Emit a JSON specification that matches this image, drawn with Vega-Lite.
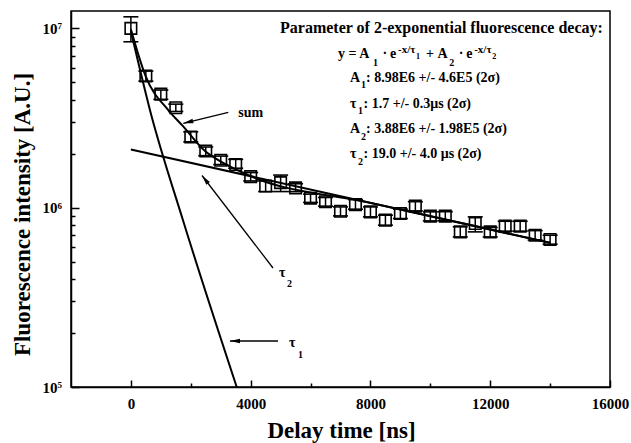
{
  "$schema": "https://vega.github.io/schema/vega-lite/v6.json",
  "width": 539,
  "height": 376,
  "autosize": {"type": "none"},
  "padding": {"left": 71, "top": 11, "right": 21, "bottom": 56},
  "background": "white",
  "config": {
    "view": {"stroke": "black", "strokeWidth": 1.5},
    "font": "Liberation Serif"
  },
  "datasets": {
    "points": [
      {"x": 0, "y": 10000000, "lo": 8420000, "hi": 11600000},
      {"x": 500, "y": 5420000, "lo": 5080000, "hi": 5780000},
      {"x": 1000, "y": 4300000, "lo": 4020000, "hi": 4530000},
      {"x": 1500, "y": 3610000, "lo": 3440000, "hi": 3780000},
      {"x": 2000, "y": 2480000, "lo": 2330000, "hi": 2650000},
      {"x": 2500, "y": 2070000, "lo": 1950000, "hi": 2180000},
      {"x": 3000, "y": 1840000, "lo": 1740000, "hi": 1940000},
      {"x": 3500, "y": 1740000, "lo": 1660000, "hi": 1860000},
      {"x": 4000, "y": 1490000, "lo": 1410000, "hi": 1570000},
      {"x": 4500, "y": 1320000, "lo": 1230000, "hi": 1410000},
      {"x": 5000, "y": 1380000, "lo": 1230000, "hi": 1520000},
      {"x": 5500, "y": 1290000, "lo": 1230000, "hi": 1360000},
      {"x": 6000, "y": 1130000, "lo": 1070000, "hi": 1190000},
      {"x": 6500, "y": 1080000, "lo": 1020000, "hi": 1140000},
      {"x": 7000, "y": 956000, "lo": 900000, "hi": 1010000},
      {"x": 7500, "y": 1040000, "lo": 981000, "hi": 1110000},
      {"x": 8000, "y": 948000, "lo": 889000, "hi": 1010000},
      {"x": 8500, "y": 852000, "lo": 799000, "hi": 908000},
      {"x": 9000, "y": 928000, "lo": 870000, "hi": 981000},
      {"x": 9500, "y": 1020000, "lo": 960000, "hi": 1080000},
      {"x": 10000, "y": 897000, "lo": 844000, "hi": 948000},
      {"x": 10500, "y": 897000, "lo": 845000, "hi": 950000},
      {"x": 11000, "y": 733000, "lo": 687000, "hi": 782000},
      {"x": 11500, "y": 816000, "lo": 733000, "hi": 889000},
      {"x": 12000, "y": 733000, "lo": 687000, "hi": 776000},
      {"x": 12500, "y": 789000, "lo": 740000, "hi": 840000},
      {"x": 13000, "y": 789000, "lo": 740000, "hi": 840000},
      {"x": 13500, "y": 702000, "lo": 660000, "hi": 745000},
      {"x": 14000, "y": 665000, "lo": 626000, "hi": 702000}
    ],
    "fits": [
      {"curve": "sum", "x": 0, "y": 9900000},
      {"curve": "sum", "x": 492, "y": 5420000},
      {"curve": "sum", "x": 1248, "y": 3500000},
      {"curve": "sum", "x": 1740, "y": 2850000},
      {"curve": "sum", "x": 2477, "y": 2070000},
      {"curve": "sum", "x": 2922, "y": 1840000},
      {"curve": "sum", "x": 3916, "y": 1520000},
      {"curve": "sum", "x": 8000, "y": 1064000},
      {"curve": "sum", "x": 14000, "y": 637000},
      {"curve": "tau1", "x": 0, "y": 9660000},
      {"curve": "tau1", "x": 638, "y": 3500000},
      {"curve": "tau1", "x": 1740, "y": 851000},
      {"curve": "tau1", "x": 3534, "y": 100000},
      {"curve": "tau2", "x": 0, "y": 2110000},
      {"curve": "tau2", "x": 14000, "y": 637000}
    ],
    "arrows": [
      {"name": "sum", "x": 1750, "y": 2955000, "x2": 3253, "y2": 3404000},
      {"name": "tau2", "x": 2375, "y": 1512000, "x2": 4746, "y2": 461000},
      {"name": "tau1", "x": 3310, "y": 180500, "x2": 4913, "y2": 180500}
    ],
    "heading": [
      {"x": 4980, "y": 9386000, "t": "Parameter of 2-exponential fluorescence decay:"}
    ],
    "textMain": [
      {"x": 6916, "y": 6810000, "t": "y = A"},
      {"x": 8403, "y": 6810000, "t": "·"},
      {"x": 8653, "y": 6810000, "t": "e"},
      {"x": 9855, "y": 6810000, "t": "+"},
      {"x": 10243, "y": 6810000, "t": "A"},
      {"x": 10951, "y": 6810000, "t": "·"},
      {"x": 11201, "y": 6810000, "t": "e"},
      {"x": 7317, "y": 5040000, "t": "A"},
      {"x": 7852, "y": 5040000, "t": ": 8.98E6 +/- 4.6E5 (2σ)"},
      {"x": 7317, "y": 3584000, "t": "τ"},
      {"x": 7768, "y": 3584000, "t": ": 1.7 +/- 0.3μs (2σ)"},
      {"x": 7317, "y": 2610000, "t": "A"},
      {"x": 7852, "y": 2610000, "t": ": 3.88E6 +/- 1.98E5 (2σ)"},
      {"x": 7317, "y": 1893000, "t": "τ"},
      {"x": 7768, "y": 1893000, "t": ": 19.0 +/- 4.0 μs (2σ)"},
      {"x": 3587, "y": 3203000, "t": "sum"},
      {"x": 4946, "y": 410700, "t": "τ"},
      {"x": 5280, "y": 167200, "t": "τ"}
    ],
    "textSub": [
      {"x": 8085, "y": 6170000, "t": "1"},
      {"x": 10634, "y": 6170000, "t": "2"},
      {"x": 7685, "y": 4650000, "t": "1"},
      {"x": 7584, "y": 3330000, "t": "1"},
      {"x": 7685, "y": 2385000, "t": "2"},
      {"x": 7584, "y": 1730000, "t": "2"},
      {"x": 5213, "y": 361000, "t": "2"},
      {"x": 5581, "y": 145100, "t": "1"}
    ],
    "textSupSub": [
      {"x": 9521, "y": 6750000, "t": "1"},
      {"x": 12066, "y": 6750000, "t": "2"}
    ],
    "textSup": [
      {"x": 8920, "y": 7260000, "t": "-x/τ"},
      {"x": 11465, "y": 7260000, "t": "-x/τ"}
    ],
    "ysup": [
      {"x": -2000, "y": 100000, "t": "5"},
      {"x": -2000, "y": 1000000, "t": "6"},
      {"x": -2000, "y": 10000000, "t": "7"}
    ]
  },
  "layer": [
    {
      "data": {"name": "fits"},
      "mark": {"type": "line", "interpolate": "monotone", "stroke": "black", "strokeWidth": 2},
      "encoding": {
        "x": {"field": "x", "type": "quantitative", "scale": {"domain": [-2000, 16000], "nice": false, "zero": false}},
        "y": {"field": "y", "type": "quantitative", "scale": {"type": "log", "domain": [100000, 12500000], "nice": false}},
        "detail": {"field": "curve"}
      }
    },
    {
      "data": {"name": "arrows"},
      "mark": {"type": "rule", "stroke": "black", "strokeWidth": 1.3},
      "encoding": {
        "x": {"field": "x", "type": "quantitative", "scale": {"domain": [-2000, 16000], "nice": false, "zero": false}},
        "y": {"field": "y", "type": "quantitative", "scale": {"type": "log", "domain": [100000, 12500000], "nice": false}},
        "x2": {"field": "x2"},
        "y2": {"field": "y2"}
      }
    },
    {
      "data": {"name": "arrows"},
      "transform": [{"filter": "datum.name === 'sum'"}],
      "mark": {"type": "point", "shape": "M0,0L-2,-0.45L-2,0.45Z", "size": 100, "filled": true, "color": "black", "opacity": 1, "angle": 166.3},
      "encoding": {
        "x": {"field": "x", "type": "quantitative", "scale": {"domain": [-2000, 16000], "nice": false, "zero": false}},
        "y": {"field": "y", "type": "quantitative", "scale": {"type": "log", "domain": [100000, 12500000], "nice": false}}
      }
    },
    {
      "data": {"name": "arrows"},
      "transform": [{"filter": "datum.name === 'tau2'"}],
      "mark": {"type": "point", "shape": "M0,0L-2,-0.45L-2,0.45Z", "size": 100, "filled": true, "color": "black", "opacity": 1, "angle": 232.6},
      "encoding": {
        "x": {"field": "x", "type": "quantitative", "scale": {"domain": [-2000, 16000], "nice": false, "zero": false}},
        "y": {"field": "y", "type": "quantitative", "scale": {"type": "log", "domain": [100000, 12500000], "nice": false}}
      }
    },
    {
      "data": {"name": "arrows"},
      "transform": [{"filter": "datum.name === 'tau1'"}],
      "mark": {"type": "point", "shape": "M0,0L-2,-0.45L-2,0.45Z", "size": 100, "filled": true, "color": "black", "opacity": 1, "angle": 180},
      "encoding": {
        "x": {"field": "x", "type": "quantitative", "scale": {"domain": [-2000, 16000], "nice": false, "zero": false}},
        "y": {"field": "y", "type": "quantitative", "scale": {"type": "log", "domain": [100000, 12500000], "nice": false}}
      }
    },
    {
      "data": {"name": "points"},
      "mark": {"type": "rule", "stroke": "black", "strokeWidth": 1.5},
      "encoding": {
        "x": {"field": "x", "type": "quantitative", "scale": {"domain": [-2000, 16000], "nice": false, "zero": false}},
        "y": {"field": "lo", "type": "quantitative", "scale": {"type": "log", "domain": [100000, 12500000], "nice": false}},
        "y2": {"field": "hi"}
      }
    },
    {
      "data": {"name": "points"},
      "mark": {"type": "point", "shape": "M-1,0L1,0", "size": 225, "filled": false, "stroke": "black", "strokeWidth": 1.6, "opacity": 1},
      "encoding": {
        "x": {"field": "x", "type": "quantitative", "scale": {"domain": [-2000, 16000], "nice": false, "zero": false}},
        "y": {"field": "lo", "type": "quantitative", "scale": {"type": "log", "domain": [100000, 12500000], "nice": false}}
      }
    },
    {
      "data": {"name": "points"},
      "mark": {"type": "point", "shape": "M-1,0L1,0", "size": 225, "filled": false, "stroke": "black", "strokeWidth": 1.6, "opacity": 1},
      "encoding": {
        "x": {"field": "x", "type": "quantitative", "scale": {"domain": [-2000, 16000], "nice": false, "zero": false}},
        "y": {"field": "hi", "type": "quantitative", "scale": {"type": "log", "domain": [100000, 12500000], "nice": false}}
      }
    },
    {
      "data": {"name": "points"},
      "mark": {"type": "point", "shape": "square", "size": 132, "filled": false, "stroke": "black", "strokeWidth": 1.6, "opacity": 1},
      "encoding": {
        "x": {
          "field": "x", "type": "quantitative",
          "scale": {"domain": [-2000, 16000], "nice": false, "zero": false},
          "axis": {
            "title": "Delay time [ns]",
            "values": [0, 2000, 4000, 6000, 8000, 10000, 12000, 14000, 16000],
            "format": "d",
            "labelExpr": "datum.value % 4000 === 0 ? datum.label : ''",
            "tickSize": {"condition": {"test": "datum.value % 4000 === 0", "value": -7}, "value": -4},
            "tickColor": "black", "tickWidth": 1.5,
            "domainColor": "black", "domainWidth": 1.5,
            "grid": false,
            "labelFont": "Liberation Serif", "labelFontWeight": "bold", "labelFontSize": 15, "labelColor": "black",
            "labelPadding": 16, "labelFlush": false, "labelOverlap": false,
            "titleFont": "Liberation Serif", "titleFontWeight": "bold", "titleFontSize": 23, "titleColor": "black",
            "titleX": 270, "titleY": 50, "titleBaseline": "alphabetic", "titleAnchor": "middle", "titleAlign": "center"
          }
        },
        "y": {
          "field": "y", "type": "quantitative",
          "scale": {"type": "log", "domain": [100000, 12500000], "nice": false},
          "axis": {
            "title": "Fluorescence intensity [A.U.]",
            "values": [100000, 200000, 300000, 400000, 500000, 600000, 700000, 800000, 900000, 1000000, 2000000, 3000000, 4000000, 5000000, 6000000, 7000000, 8000000, 9000000, 10000000],
            "labelExpr": "datum.value == 100000 || datum.value == 1000000 || datum.value == 10000000 ? '10' : ''",
            "tickSize": {"condition": {"test": "datum.value == 100000 || datum.value == 1000000 || datum.value == 10000000", "value": -8}, "value": -4},
            "tickColor": "black", "tickWidth": 1.5,
            "domainColor": "black", "domainWidth": 1.5,
            "grid": false,
            "labelFont": "Liberation Serif", "labelFontWeight": "bold", "labelFontSize": 15, "labelColor": "black",
            "labelPadding": 22, "labelOverlap": false, "labelFlush": false,
            "titleFont": "Liberation Serif", "titleFontWeight": "bold", "titleFontSize": 23, "titleColor": "black",
            "titleX": -49, "titleY": 203, "titleBaseline": "middle", "titleAnchor": "middle", "titleAlign": "center", "titleAngle": -90
          }
        }
      }
    },
    {
      "data": {"name": "ysup"},
      "mark": {"type": "text", "align": "right", "baseline": "alphabetic", "dx": -9, "dy": 1, "font": "Liberation Serif", "fontWeight": "bold", "fontSize": 9, "color": "black"},
      "encoding": {
        "x": {"field": "x", "type": "quantitative", "scale": {"domain": [-2000, 16000], "nice": false, "zero": false}},
        "y": {"field": "y", "type": "quantitative", "scale": {"type": "log", "domain": [100000, 12500000], "nice": false}},
        "text": {"field": "t"}
      }
    },
    {
      "data": {"name": "heading"},
      "mark": {"type": "text", "align": "left", "baseline": "alphabetic", "font": "Liberation Serif", "fontWeight": "bold", "fontSize": 16, "color": "black"},
      "encoding": {
        "x": {"field": "x", "type": "quantitative", "scale": {"domain": [-2000, 16000], "nice": false, "zero": false}},
        "y": {"field": "y", "type": "quantitative", "scale": {"type": "log", "domain": [100000, 12500000], "nice": false}},
        "text": {"field": "t"}
      }
    },
    {
      "data": {"name": "textMain"},
      "mark": {"type": "text", "align": "left", "baseline": "alphabetic", "font": "Liberation Serif", "fontWeight": "bold", "fontSize": 14, "color": "black"},
      "encoding": {
        "x": {"field": "x", "type": "quantitative", "scale": {"domain": [-2000, 16000], "nice": false, "zero": false}},
        "y": {"field": "y", "type": "quantitative", "scale": {"type": "log", "domain": [100000, 12500000], "nice": false}},
        "text": {"field": "t"}
      }
    },
    {
      "data": {"name": "textSub"},
      "mark": {"type": "text", "align": "left", "baseline": "alphabetic", "font": "Liberation Serif", "fontWeight": "bold", "fontSize": 10, "color": "black"},
      "encoding": {
        "x": {"field": "x", "type": "quantitative", "scale": {"domain": [-2000, 16000], "nice": false, "zero": false}},
        "y": {"field": "y", "type": "quantitative", "scale": {"type": "log", "domain": [100000, 12500000], "nice": false}},
        "text": {"field": "t"}
      }
    },
    {
      "data": {"name": "textSupSub"},
      "mark": {"type": "text", "align": "left", "baseline": "alphabetic", "font": "Liberation Serif", "fontWeight": "bold", "fontSize": 8, "color": "black"},
      "encoding": {
        "x": {"field": "x", "type": "quantitative", "scale": {"domain": [-2000, 16000], "nice": false, "zero": false}},
        "y": {"field": "y", "type": "quantitative", "scale": {"type": "log", "domain": [100000, 12500000], "nice": false}},
        "text": {"field": "t"}
      }
    },
    {
      "data": {"name": "textSup"},
      "mark": {"type": "text", "align": "left", "baseline": "alphabetic", "font": "Liberation Serif", "fontWeight": "bold", "fontSize": 11, "color": "black"},
      "encoding": {
        "x": {"field": "x", "type": "quantitative", "scale": {"domain": [-2000, 16000], "nice": false, "zero": false}},
        "y": {"field": "y", "type": "quantitative", "scale": {"type": "log", "domain": [100000, 12500000], "nice": false}},
        "text": {"field": "t"}
      }
    }
  ]
}
